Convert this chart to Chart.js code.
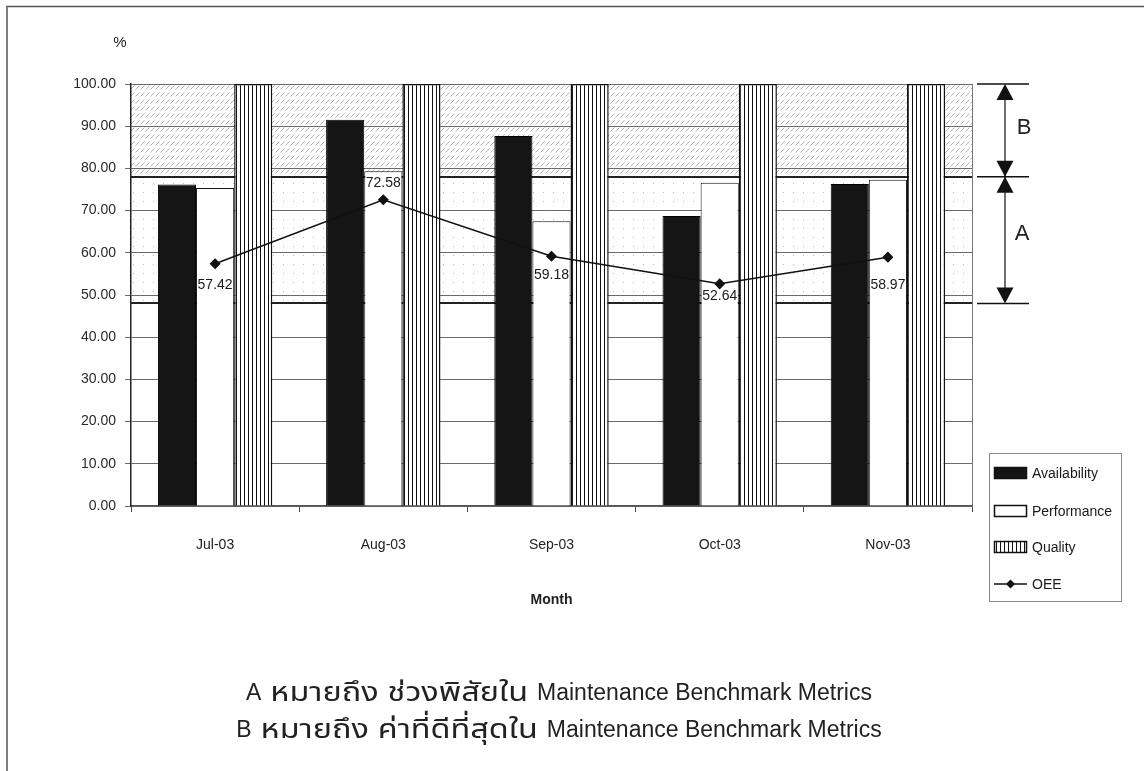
<!DOCTYPE html>
<html>
<head>
<meta charset="utf-8">
<script src="https://cdn.jsdelivr.net/npm/chart.js@4/dist/chart.umd.min.js"></script>
<style>
  html, body { margin: 0; padding: 0; background: #fff; }
  canvas { display: block; }
</style>
</head>
<body>
<canvas id="oee" width="1144" height="771" style="width:1144px;height:771px"></canvas>
<script>
// Monthly OEE breakdown
const months = ['Jul-03', 'Aug-03', 'Sep-03', 'Oct-03', 'Nov-03'];
const availability = [76.2, 91.5, 87.7, 68.7, 76.3];
const performance = [75.35, 79.3, 67.5, 76.6, 77.3];
const quality = [100, 100, 100, 100, 100];
const oee = [57.42, 72.58, 59.18, 52.64, 58.97];
const yTicks = [0, 10, 20, 30, 40, 50, 60, 70, 80, 90, 100];

// Benchmark ranges (percent)
const rangeA = [48, 78];
const rangeB = [78, 100];
const noteLines = [
  ['A', 'หมายถึง', 'ช่วงพิสัยใน'],
  ['B', 'หมายถึง', 'ค่าที่ดีที่สุดใน']
];
const noteSuffix = 'Maintenance Benchmark Metrics';

// Label placement for OEE values (pixel offsets from each point)
const oeeLabelDy = [21, -17, 19, 12, 28];

const FONT = "'Liberation Sans', Arial, 'Noto Sans Thai', 'Noto Sans', sans-serif";
Chart.defaults.font.family = FONT;

function makePattern(w, h, paint) {
  const c = document.createElement('canvas');
  c.width = w; c.height = h;
  const g = c.getContext('2d');
  g.fillStyle = '#fff';
  g.fillRect(0, 0, w, h);
  paint(g);
  return g.createPattern(c, 'repeat');
}

const hatch = makePattern(5, 7, g => {
  g.strokeStyle = '#b4b4b4';
  g.lineWidth = 1;
  g.beginPath();
  g.moveTo(0.5, 5.5);
  g.lineTo(4.5, 1.5);
  g.stroke();
});
const dots = makePattern(10, 9, g => {
  g.fillStyle = '#b8b8b8';
  g.fillRect(3, 3, 1, 1);
});
const stripes = makePattern(4, 4, g => {
  g.fillStyle = '#111';
  g.fillRect(0, 0, 1, 4);
});

function arrowHead(ctx, x, tipY, dir) {
  // dir = 1 points down, -1 points up
  ctx.beginPath();
  ctx.moveTo(x, tipY);
  ctx.lineTo(x - 8.5, tipY - dir * 16);
  ctx.lineTo(x + 8.5, tipY - dir * 16);
  ctx.closePath();
  ctx.fill();
}

// One centred note line: letter, two Thai words, then the Latin suffix
function drawNote(ctx, parts, cx, y) {
  const latin = '23px ' + FONT, thai = '27px ' + FONT, sx = 1.2, gap = 9;
  ctx.textAlign = 'left';
  ctx.textBaseline = 'middle';
  ctx.font = latin;
  const wA = ctx.measureText(parts[0]).width;
  const wL = ctx.measureText(noteSuffix).width;
  ctx.font = thai;
  const w1 = ctx.measureText(parts[1]).width * sx;
  const w2 = ctx.measureText(parts[2]).width * sx;
  let x = cx - (wA + w1 + w2 + wL + 3 * gap) / 2;
  ctx.font = latin;
  ctx.fillText(parts[0], x, y);
  x += wA + gap;
  ctx.font = thai;
  [[parts[1], w1], [parts[2], w2]].forEach(([t, w]) => {
    ctx.save();
    ctx.translate(x, y);
    ctx.scale(sx, 1);
    ctx.fillText(t, 0, 0);
    ctx.restore();
    x += w + gap;
  });
  ctx.font = latin;
  ctx.fillText(noteSuffix, x, y);
}

const decor = {
  id: 'decor',
  beforeDraw(chart) {
    const { ctx, chartArea: a, scales: { y } } = chart;
    ctx.save();
    ctx.fillStyle = '#fff';
    ctx.fillRect(0, 0, chart.width, chart.height);
    const b1 = y.getPixelForValue(rangeB[1]), b0 = y.getPixelForValue(rangeB[0]);
    const a1 = y.getPixelForValue(rangeA[1]), a0 = y.getPixelForValue(rangeA[0]);
    ctx.fillStyle = hatch;
    ctx.fillRect(a.left, b1, a.right - a.left, b0 - b1);
    ctx.fillStyle = dots;
    ctx.fillRect(a.left, a1, a.right - a.left, a0 - a1);
    ctx.strokeStyle = '#222';
    ctx.lineWidth = 2;
    [rangeA[1], rangeA[0]].forEach(v => {
      const p = Math.round(y.getPixelForValue(v));
      ctx.beginPath();
      ctx.moveTo(a.left, p);
      ctx.lineTo(a.right, p);
      ctx.stroke();
    });
    // right frame of plot area
    ctx.strokeStyle = '#777';
    ctx.lineWidth = 1;
    ctx.beginPath();
    ctx.moveTo(a.right + 0.5, a.top);
    ctx.lineTo(a.right + 0.5, a.bottom);
    ctx.stroke();
    ctx.restore();
  },
  afterDatasetsDraw(chart) {
    const { ctx } = chart;
    const idx = chart.data.datasets.findIndex(d => d.type === 'line');
    const meta = chart.getDatasetMeta(idx);
    ctx.save();
    ctx.font = '14px ' + FONT;
    ctx.fillStyle = '#1a1a1a';
    ctx.textAlign = 'center';
    ctx.textBaseline = 'middle';
    meta.data.forEach((pt, i) => {
      ctx.fillText(oee[i].toFixed(2), pt.x, pt.y + oeeLabelDy[i]);
    });
    ctx.restore();
  },
  afterDraw(chart) {
    const { ctx, scales: { y } } = chart;
    ctx.save();

    // y unit
    ctx.font = '15px ' + FONT;
    ctx.fillStyle = '#222';
    ctx.textAlign = 'center';
    ctx.textBaseline = 'middle';
    ctx.fillText('%', 120, 43);

    // A / B range markers
    const ax = 1005;
    const yB1 = y.getPixelForValue(rangeB[1]);
    const yMid = y.getPixelForValue(rangeA[1]);
    const yA0 = y.getPixelForValue(rangeA[0]);
    ctx.strokeStyle = '#111';
    ctx.fillStyle = '#111';
    ctx.lineWidth = 1.5;
    [yB1, yMid, yA0].forEach(p => {
      ctx.beginPath();
      ctx.moveTo(977, p);
      ctx.lineTo(1029, p);
      ctx.stroke();
    });
    ctx.lineWidth = 1.2;
    ctx.beginPath();
    ctx.moveTo(ax, yB1 + 10);
    ctx.lineTo(ax, yA0 - 10);
    ctx.stroke();
    arrowHead(ctx, ax, yB1, -1);
    arrowHead(ctx, ax, yMid, 1);
    arrowHead(ctx, ax, yMid, -1);
    arrowHead(ctx, ax, yA0, 1);
    ctx.font = '22px ' + FONT;
    ctx.fillStyle = '#222';
    ctx.textAlign = 'center';
    ctx.fillText('B', 1024, (yB1 + yMid) / 2 - 2);
    ctx.fillText('A', 1022, (yMid + yA0) / 2 - 6);

    // legend
    ctx.strokeStyle = '#888';
    ctx.lineWidth = 1;
    ctx.strokeRect(989.5, 453.5, 132, 148);
    const rows = [473, 511, 547, 584];
    ctx.font = '14px ' + FONT;
    ctx.textAlign = 'left';
    ctx.textBaseline = 'middle';
    chart.data.datasets.forEach((ds, i) => {
      const ry = rows[i];
      if (ds.type === 'line') {
        ctx.strokeStyle = '#111';
        ctx.lineWidth = 1.5;
        ctx.beginPath();
        ctx.moveTo(994, ry);
        ctx.lineTo(1027, ry);
        ctx.stroke();
        ctx.fillStyle = '#111';
        ctx.beginPath();
        ctx.moveTo(1010.5, ry - 4.5);
        ctx.lineTo(1015, ry);
        ctx.lineTo(1010.5, ry + 4.5);
        ctx.lineTo(1006, ry);
        ctx.closePath();
        ctx.fill();
      } else {
        ctx.fillStyle = ds.backgroundColor;
        ctx.fillRect(994, ry - 6, 33, 12);
        ctx.strokeStyle = '#111';
        ctx.lineWidth = 1.5;
        ctx.strokeRect(994.5, ry - 5.5, 32, 11);
      }
      ctx.fillStyle = '#1a1a1a';
      ctx.fillText(ds.label, 1032, ry + 1);
    });

    // notes below the chart
    ctx.fillStyle = '#222';
    drawNote(ctx, noteLines[0], 559, 694);
    drawNote(ctx, noteLines[1], 559, 731);

    // page frame
    ctx.strokeStyle = '#555';
    ctx.lineWidth = 1.5;
    ctx.beginPath();
    ctx.moveTo(7, 771);
    ctx.lineTo(7, 6.5);
    ctx.lineTo(1144, 6.5);
    ctx.stroke();
    ctx.restore();
  }
};

new Chart(document.getElementById('oee'), {
  data: {
    labels: months,
    datasets: [
      { type: 'bar', label: 'Availability', data: availability, backgroundColor: '#151515',
        borderColor: '#000', borderWidth: 1, order: 1 },
      { type: 'bar', label: 'Performance', data: performance, backgroundColor: '#fff',
        borderColor: '#111', borderWidth: 1, order: 1 },
      { type: 'bar', label: 'Quality', data: quality, backgroundColor: stripes,
        borderColor: '#111', borderWidth: 1.5, order: 1 },
      { type: 'line', label: 'OEE', data: oee, borderColor: '#111', borderWidth: 1.5,
        pointStyle: 'rectRot', pointRadius: 4.5, pointBackgroundColor: '#111',
        pointBorderColor: '#111', tension: 0, order: 0 }
    ]
  },
  options: {
    responsive: false,
    animation: false,
    devicePixelRatio: 1,
    layout: { padding: { top: 84, right: 172, bottom: 162, left: 0 } },
    datasets: { bar: { categoryPercentage: 0.68, barPercentage: 1.0 } },
    plugins: { legend: { display: false }, tooltip: { enabled: false } },
    scales: {
      x: {
        offset: true,
        grid: { display: true, offset: true, drawOnChartArea: false, drawTicks: true,
                tickLength: 6, color: '#444' },
        border: { display: true, color: '#555', width: 1.5 },
        ticks: { padding: 25, color: '#222', font: { size: 14 }, maxRotation: 0 },
        title: { display: true, text: 'Month', color: '#222', padding: 0,
                 font: { size: 14, weight: 'bold' } },
        afterFit: s => { s.height = 103; }
      },
      y: {
        min: 0, max: 100,
        afterBuildTicks: s => { s.ticks = yTicks.map(v => ({ value: v })); },
        ticks: { callback: v => Number(v).toFixed(2), padding: 9, color: '#2a2a2a',
                 font: { size: 14 } },
        grid: { color: '#6a6a6a', lineWidth: 1, tickLength: 6 },
        border: { color: '#222', width: 1.5 },
        afterFit: s => { s.width = 131; }
      }
    }
  },
  plugins: [decor]
});
</script>
</body>
</html>
